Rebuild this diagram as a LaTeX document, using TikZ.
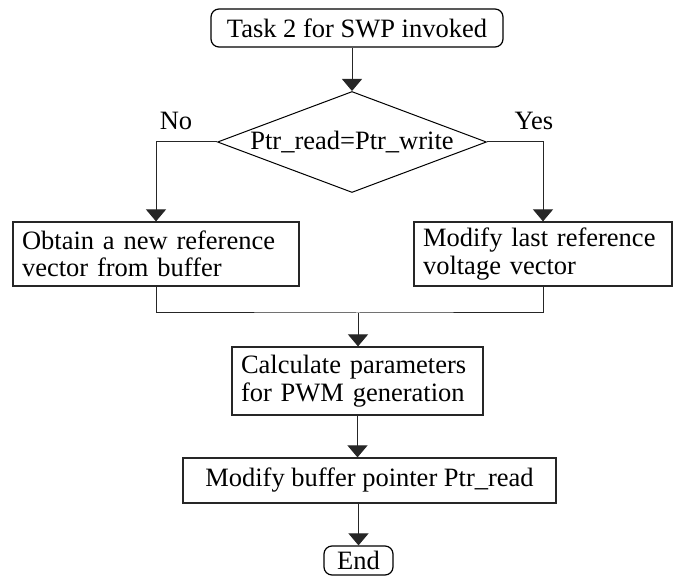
\documentclass[tikz,border=0pt]{standalone}
\usepackage{fontspec}
\setmainfont{Liberation Serif}
\usepackage{tikz}
\usetikzlibrary{positioning, shapes, arrows.meta}
\tikzstyle{pr}=[%
      rectangle, draw=black!85, line width=0.6pt, fill=none,
      inner xsep=4.5pt, inner ysep=2pt, align=left
]
\tikzstyle{tm}=[%
      rectangle, rounded corners=4pt, draw=black, line width=0.6pt, fill=none,
      inner sep=1pt, align=center
]
\tikzstyle{dc}=[%
      diamond, aspect=2.66, draw=black, line width=0.5pt, fill=none,
      inner sep=0pt
]
\tikzstyle{ln}=[%
      draw=black!85, line width=0.5pt
]

\begin{document}
\begin{tikzpicture}[x=0.5pt, y=-0.5pt,
    font=\fontsize{13.25}{13.8}\selectfont,
    -{Triangle[length=6pt,width=10pt]}
  ]
    \useasboundingbox (0,0) rectangle (674,576);

    \node[tm, minimum width=146pt, minimum height=19pt]   (start) at (357,28)      {Task 2 for SWP invoked};
    \node[dc, minimum width=134.5pt, minimum height=50.5pt] (chk) at (352,142)     {Ptr\_read=Ptr\_write};
    \node[pr, text width=134pt, minimum height=32pt]      (new)   at (156,254)     {Obtain a new reference\\vector from buffer};
    \node[pr, text width=120pt, minimum height=32pt]      (vol)   at (543,254)     {Modify last reference\\voltage vector};
    \node[pr, text width=116.5pt, minimum height=34pt]    (calc)  at (357.5,381)   {Calculate parameters\\for PWM generation};
    \node[pr, align=center, minimum width=186.5pt, minimum height=22.5pt] (buf) at (369.5,480.5) {Modify buffer pointer Ptr\_read};
    \node[tm, minimum width=34.5pt, minimum height=14.5pt] (fin)   at (358.5,560.5) {End};

    \node (no)  at (176,121) {No};
    \node (yes) at (534,121) {Yes};

    \coordinate (mid) at (358,313);

    \path[ln] (start.south -| chk.north) -- (chk.north);
    \path[ln] (chk.west) -| (new.north);
    \path[ln] (chk.east) -| (vol.north);
    \path[ln, -] (new.south) |- (mid) -| (vol.south);
    \path[ln] (mid) -- (mid |- calc.north);
    \path[ln] (calc.south) -- (calc.south |- buf.north);
    \path[ln] (buf.south -| fin.north) -- (fin.north);

  \end{tikzpicture}
\end{document}
